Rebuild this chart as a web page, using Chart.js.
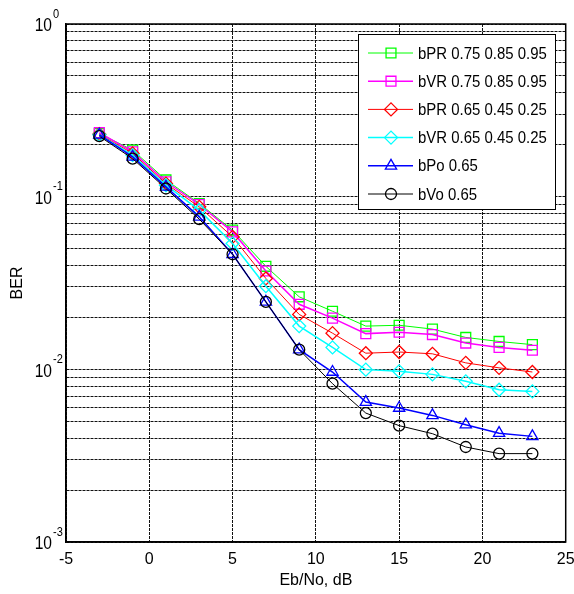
<!DOCTYPE html>
<html>
<head>
<meta charset="utf-8">
<script src="https://cdn.jsdelivr.net/npm/chart.js@4.4.0/dist/chart.umd.min.js"></script>
<style>
  html, body { margin: 0; padding: 0; background: #fff; }
  #wrap { width: 574px; height: 594px; }
</style>
</head>
<body>
<div id="wrap"><canvas id="myChart"></canvas></div>
<script>
// Eb/No points (dB)
var ebno = [-3, -1, 1, 3, 5, 7, 9, 11, 13, 15, 17, 19, 21, 23];

// BER curves
var bprHigh = [0.232, 0.186, 0.125, 0.0913, 0.064, 0.0395, 0.0263, 0.0217, 0.0178, 0.0180, 0.0171, 0.0153, 0.0145, 0.0139];
var bvrHigh = [0.235, 0.182, 0.122, 0.0901, 0.0625, 0.0371, 0.0238, 0.0198, 0.0161, 0.0164, 0.0159, 0.0142, 0.0134, 0.0129];
var bprLow  = [0.230, 0.178, 0.119, 0.0873, 0.0585, 0.0336, 0.0208, 0.0162, 0.0124, 0.0126, 0.0123, 0.0109, 0.0102, 0.00965];
var bvrLow  = [0.228, 0.174, 0.1165, 0.0835, 0.0535, 0.0303, 0.0178, 0.0134, 0.00996, 0.00974, 0.00935, 0.00852, 0.00762, 0.00745];
var bpo     = [0.228, 0.170, 0.114, 0.0764, 0.0464, 0.0246, 0.0130, 0.00965, 0.00646, 0.00597, 0.00541, 0.00478, 0.00427, 0.00409];
var bvo     = [0.224, 0.166, 0.1115, 0.0741, 0.0464, 0.0246, 0.0130, 0.00826, 0.00558, 0.00472, 0.00424, 0.00355, 0.00325, 0.00325];

var labels = ['bPR 0.75 0.85 0.95', 'bVR 0.75 0.85 0.95', 'bPR 0.65 0.45 0.25', 'bVR 0.65 0.45 0.25', 'bPo 0.65', 'bVo 0.65'];

// ticks
var xTicks = [-5, 0, 5, 10, 15, 20, 25];
var yGrid = [0.001, 0.002, 0.003, 0.004, 0.005, 0.006, 0.007, 0.008, 0.009,
             0.01, 0.02, 0.03, 0.04, 0.05, 0.06, 0.07, 0.08, 0.09,
             0.1, 0.2, 0.3, 0.4, 0.5, 0.6, 0.7, 0.8, 0.9, 1];
var yLabelVals = [1, 0.1, 0.01, 0.001];
var yLabelExp = ['0', '-1', '-2', '-3'];

var fam = "'Liberation Sans', Arial, sans-serif";

function pts(arr) {
    return arr.map(function (v, i) { return { x: ebno[i], y: v }; });
}

function series(i, arr, color, style, r, lw, ord) {
    return {
        label: labels[i],
        data: pts(arr),
        borderColor: color,
        backgroundColor: 'rgba(0,0,0,0)',
        borderWidth: lw,
        pointStyle: style,
        pointRadius: r,
        pointBorderColor: color,
        pointBackgroundColor: 'rgba(0,0,0,0)',
        pointBorderWidth: 1.3,
        tension: 0,
        order: ord
    };
}

// text squeezed a bit sideways, the original font is tall and narrow
function narrowText(ctx, txt, x, y, size, align, sx) {
    ctx.save();
    ctx.font = size + 'px ' + fam;
    ctx.textAlign = align;
    ctx.textBaseline = 'middle';
    ctx.translate(x, y);
    ctx.scale(sx, 1);
    ctx.fillText(txt, 0, 0);
    ctx.restore();
}

// y tick labels as 10^n, frame and legend box
var extras = {
    id: 'extras',
    afterDraw: function (chart) {
        var ctx = chart.ctx;
        var area = chart.chartArea;
        var ys = chart.scales.y;

        ctx.save();
        ctx.fillStyle = '#000';
        yLabelVals.forEach(function (v, i) {
            var py = ys.getPixelForValue(v);
            narrowText(ctx, '10', 52, py + 2, 19, 'right', 0.82);
            narrowText(ctx, yLabelExp[i], 53, py - 10, 13, 'left', 0.85);
        });

        // axes box
        ctx.strokeStyle = '#000';
        ctx.lineWidth = 1.5;
        ctx.strokeRect(area.left, area.top, area.right - area.left, area.bottom - area.top);

        // legend
        var bx = 358, by = 34, bw = 197, bh = 175;
        ctx.fillStyle = '#fff';
        ctx.fillRect(bx, by, bw, bh);
        ctx.lineWidth = 1;
        ctx.strokeRect(bx + 0.5, by + 0.5, bw, bh);
        chart.data.datasets.forEach(function (ds, i) {
            var ry = by + 19 + i * 28.2;
            ctx.strokeStyle = ds.borderColor;
            ctx.lineWidth = ds.borderWidth;
            ctx.beginPath();
            ctx.moveTo(368, ry);
            ctx.lineTo(413, ry);
            ctx.stroke();
            ctx.lineWidth = ds.pointBorderWidth;
            ctx.fillStyle = 'rgba(0,0,0,0)';
            Chart.helpers.drawPoint(ctx, {
                pointStyle: ds.pointStyle,
                radius: ds.pointRadius,
                rotation: 0,
                borderWidth: ds.pointBorderWidth
            }, 391, ry);
            ctx.fillStyle = '#000';
            narrowText(ctx, ds.label, 418, ry + 1, 17, 'left', 0.88);
        });
        ctx.restore();
    }
};

var ctx = document.getElementById('myChart').getContext('2d');
var chart = new Chart(ctx, {
    type: 'line',
    data: {
        datasets: [
            series(0, bprHigh, '#00ff00', 'rect', 7, 1, 6),
            series(1, bvrHigh, '#ff00ff', 'rect', 7, 1.5, 5),
            series(2, bprLow, '#ff0000', 'rectRot', 6.5, 1, 4),
            series(3, bvrLow, '#00ffff', 'rectRot', 6.5, 1.5, 3),
            series(4, bpo, '#0000ff', 'triangle', 6.5, 1.5, 2),
            series(5, bvo, '#000000', 'circle', 5.5, 1, 1)
        ]
    },
    options: {
        responsive: true,
        maintainAspectRatio: false,
        animation: false,
        layout: { padding: { top: 24, right: 7, left: 0, bottom: 0 } },
        plugins: {
            legend: { display: false },
            tooltip: { enabled: false }
        },
        scales: {
            x: {
                type: 'linear',
                min: -5,
                max: 25,
                afterBuildTicks: function (s) { s.ticks = xTicks.map(function (v) { return { value: v }; }); },
                afterFit: function (s) { s.height = 52; s.paddingLeft = 0; s.paddingRight = 0; },
                grid: { color: '#111', lineWidth: 1, drawTicks: false },
                border: { display: true, color: '#000', width: 1.5, dash: [3, 1] },
                ticks: { color: '#000', font: { family: fam, size: 16 }, padding: 8, maxRotation: 0 },
                title: { display: true, text: 'Eb/No, dB', color: '#000', font: { family: fam, size: 16 }, padding: { top: 0, bottom: 4 } }
            },
            y: {
                type: 'logarithmic',
                min: 0.001,
                max: 1,
                afterBuildTicks: function (s) { s.ticks = yGrid.map(function (v) { return { value: v }; }); },
                afterFit: function (s) { s.width = 66; },
                grid: { color: '#111', lineWidth: 1, drawTicks: false },
                border: { display: true, color: '#000', width: 1.5, dash: [3, 1] },
                ticks: { display: false },
                title: { display: true, text: 'BER', color: '#000', font: { family: fam, size: 16 }, padding: { top: 8, bottom: 0 } }
            }
        }
    },
    plugins: [extras]
});
</script>
</body>
</html>
